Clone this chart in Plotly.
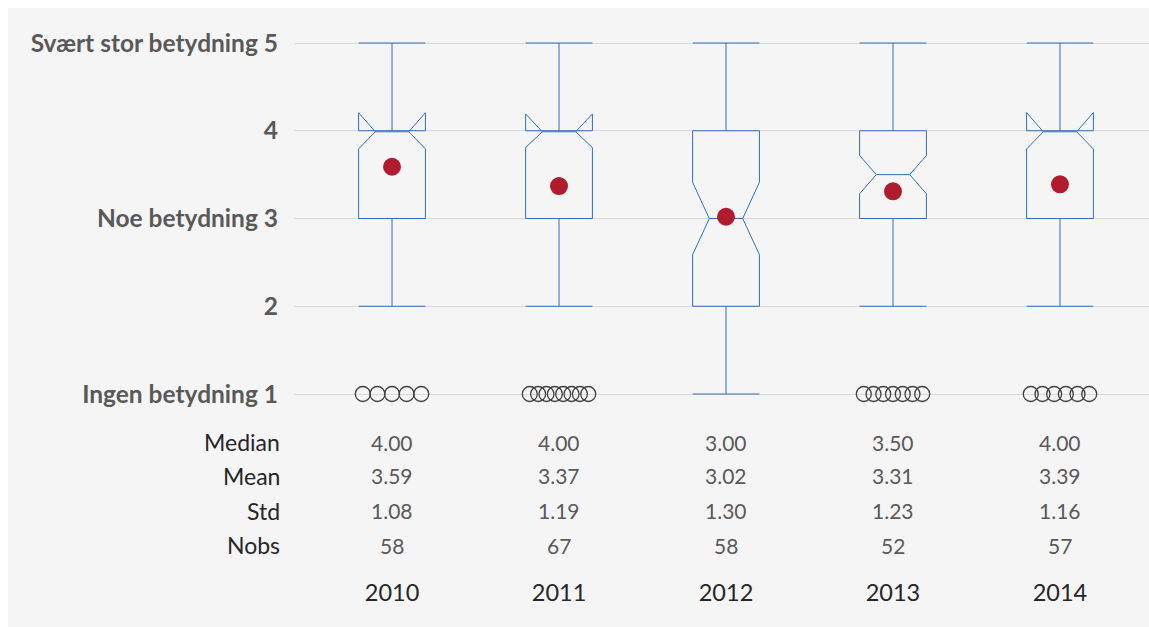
import plotly.graph_objects as go
import math

years = ["2010", "2011", "2012", "2013", "2014"]
medians = [4.0, 4.0, 3.0, 3.5, 4.0]
means = [3.59, 3.37, 3.02, 3.31, 3.39]
stds = [1.08, 1.19, 1.30, 1.23, 1.16]
nobs = [58, 67, 58, 52, 57]
q1 = [3, 3, 2, 3, 3]
q3 = [4, 4, 4, 4, 4]
lower_whisker = [2, 2, 1, 2, 2]
upper_whisker = [5, 5, 5, 5, 5]
outlier_value = 1
outlier_counts = [5, 8, 0, 7, 6]

ytick_vals = [1, 2, 3, 4, 5]
ytick_text = ["Ingen betydning 1", "2", "Noe betydning 3", "4", "Svært stor betydning 5"]

row_labels = ["Median", "Mean", "Std", "Nobs"]
row_y = [0.453, 0.066, -0.333, -0.721]

xs = list(range(len(years)))
notchspan = [1.57 * (b - a) / math.sqrt(n) for a, b, n in zip(q1, q3, nobs)]

BG = "#f5f5f5"
BLUE = "#2f6eba"
FONT = "Lato"

fig = go.Figure()

fig.add_trace(go.Box(
    x=xs, q1=q1, median=medians, q3=q3,
    lowerfence=lower_whisker, upperfence=upper_whisker,
    notched=True, notchspan=notchspan, notchwidth=0.25,
    width=0.4, whiskerwidth=1,
    line=dict(color=BLUE, width=1),
    fillcolor="rgba(0,0,0,0)",
    boxpoints=False, showlegend=False, hoverinfo="skip",
))

# outliers (spread horizontally like the reference)
ox, oy = [], []
for x, n in zip(xs, outlier_counts):
    if n == 0:
        continue
    half = 0.175
    for i in range(n):
        off = -half + (2 * half) * i / (n - 1) if n > 1 else 0
        ox.append(x + off)
        oy.append(outlier_value)
fig.add_trace(go.Scatter(
    x=ox, y=oy, mode="markers",
    marker=dict(symbol="circle-open", size=15, color="#404040", line=dict(width=1.3)),
    showlegend=False, hoverinfo="skip",
))

fig.add_trace(go.Scatter(
    x=xs, y=means, mode="markers",
    marker=dict(symbol="circle", size=18, color="#b01b2e"),
    showlegend=False, hoverinfo="skip",
))

annotations = []
stat_rows = [
    [f"{v:.2f}" for v in medians],
    [f"{v:.2f}" for v in means],
    [f"{v:.2f}" for v in stds],
    [f"{v}" for v in nobs],
]
for lab, yv, vals in zip(row_labels, row_y, stat_rows):
    annotations.append(dict(
        x=0, xref="paper", y=yv, yref="y", text=lab, showarrow=False,
        xanchor="right", yanchor="middle", xshift=-13,
        font=dict(family=FONT, size=23, color="#262626"),
    ))
    for x, t in zip(xs, vals):
        annotations.append(dict(
            x=x, xref="x", y=yv, yref="y", text=t, showarrow=False,
            xanchor="center", yanchor="middle",
            font=dict(family=FONT, size=21, color="#595959"),
        ))

fig.update_layout(
    width=1141, height=619,
    margin=dict(l=287, r=0, t=10, b=51),
    paper_bgcolor=BG, plot_bgcolor=BG,
    annotations=annotations,
    xaxis=dict(
        range=[-0.581, 4.533], tickvals=xs, ticktext=years,
        showgrid=False, zeroline=False, showline=False, ticks="",
        tickfont=dict(family=FONT, size=23.5, color="#262626"),
    ),
    yaxis=dict(
        range=[-1.074, 5.285], tickvals=ytick_vals, ticktext=ytick_text,
        showgrid=True, gridcolor="#d9d9d9", gridwidth=1,
        zeroline=False, showline=False, ticks="",
        ticklabelstandoff=16,
        tickfont=dict(family=FONT, size=24.5, color="#595959", weight="bold"),
    ),
)

fig.write_html(
    "out.html",
    post_script="document.body.style.margin='8px 0 0 8px';"
                "document.body.style.overflow='hidden';"
                "document.documentElement.style.overflow='hidden';",
)
